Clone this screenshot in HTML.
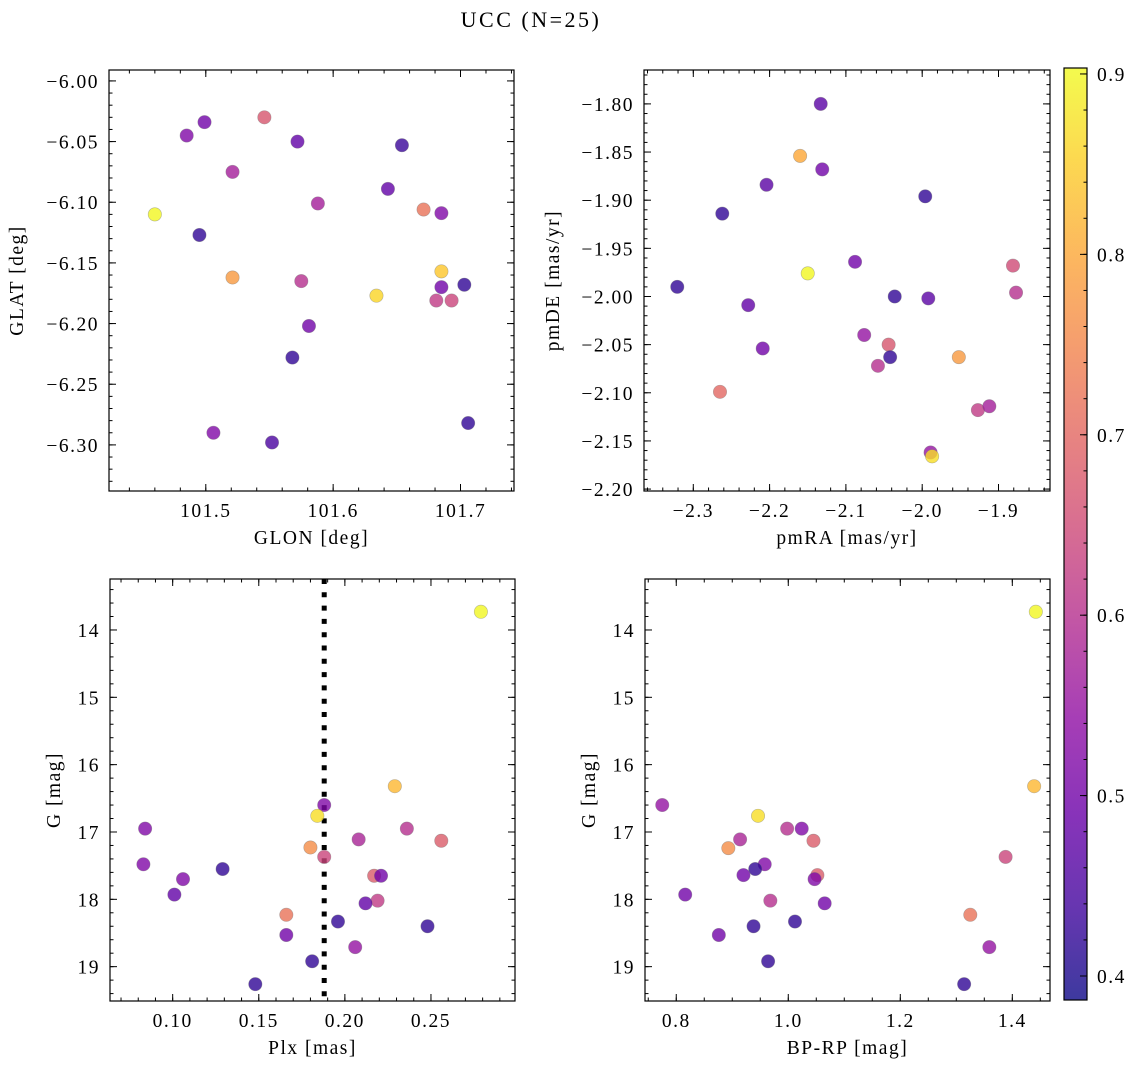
<!DOCTYPE html>
<html><head><meta charset="utf-8"><style>
html,body{margin:0;padding:0;background:#fff;}
svg{display:block;font-family:"Liberation Serif","DejaVu Serif",serif;}
</style></head><body>
<svg id="fig" width="1136" height="1068" viewBox="0 0 1136 1068" xmlns="http://www.w3.org/2000/svg">
<text x="531" y="27" font-size="22" letter-spacing="2.5" text-anchor="middle">UCC (N=25)</text>
</svg>
<script>
// ---- data ----
const p1Glon=[101.460,101.485,101.499,101.546,101.521,101.495,101.521,101.572,101.654,101.643,101.588,101.671,101.685,101.575,101.634,101.685,101.685,101.681,101.693,101.703,101.581,101.568,101.506,101.552,101.706];
const p1Glat=[-6.110,-6.045,-6.034,-6.030,-6.075,-6.127,-6.162,-6.050,-6.053,-6.089,-6.101,-6.106,-6.109,-6.165,-6.177,-6.157,-6.170,-6.181,-6.181,-6.168,-6.202,-6.228,-6.290,-6.298,-6.282];
const p1Prob=[0.90,0.52,0.50,0.67,0.57,0.42,0.78,0.48,0.43,0.48,0.57,0.72,0.52,0.60,0.86,0.84,0.50,0.62,0.64,0.42,0.50,0.42,0.52,0.45,0.42];
const p2PmRA=[-2.133,-2.160,-2.131,-2.204,-2.262,-1.996,-2.150,-2.088,-1.881,-1.877,-2.321,-2.228,-2.036,-1.992,-2.209,-2.076,-2.044,-2.042,-2.058,-1.952,-2.265,-1.927,-1.912,-1.989,-1.987];
const p2PmDE=[-1.800,-1.854,-1.868,-1.884,-1.914,-1.896,-1.976,-1.964,-1.968,-1.996,-1.990,-2.009,-2.000,-2.002,-2.054,-2.040,-2.050,-2.063,-2.072,-2.063,-2.099,-2.118,-2.114,-2.162,-2.166];
const p2Prob=[0.47,0.80,0.50,0.47,0.42,0.42,0.90,0.50,0.65,0.60,0.42,0.48,0.42,0.47,0.50,0.55,0.67,0.42,0.60,0.78,0.70,0.62,0.57,0.55,0.87];
const p3Plx=[0.279,0.229,0.188,0.184,0.084,0.236,0.208,0.256,0.180,0.188,0.083,0.129,0.106,0.217,0.221,0.101,0.219,0.212,0.166,0.196,0.248,0.166,0.206,0.181,0.148];
const p3G=[13.73,16.32,16.60,16.76,16.95,16.95,17.11,17.13,17.23,17.37,17.48,17.55,17.70,17.65,17.65,17.93,18.02,18.06,18.23,18.33,18.40,18.53,18.71,18.92,19.26];
const p3Prob=[0.90,0.82,0.52,0.87,0.52,0.60,0.58,0.68,0.76,0.64,0.52,0.42,0.52,0.68,0.50,0.48,0.62,0.48,0.72,0.42,0.42,0.50,0.55,0.42,0.42];
const plxLine=[0.188];
const p4Bprp=[1.442,1.439,0.775,0.946,0.998,1.024,1.045,0.914,0.893,1.388,0.958,0.941,0.920,1.052,1.047,0.816,0.968,1.065,1.325,1.012,0.938,0.876,1.359,0.964,1.314];
const p4G=[13.73,16.32,16.60,16.76,16.95,16.95,17.13,17.11,17.24,17.37,17.48,17.55,17.64,17.64,17.70,17.93,18.02,18.06,18.23,18.33,18.40,18.53,18.71,18.92,19.26];
const p4Prob=[0.90,0.82,0.55,0.87,0.60,0.52,0.68,0.58,0.76,0.64,0.52,0.42,0.50,0.68,0.52,0.50,0.60,0.50,0.72,0.42,0.42,0.50,0.55,0.42,0.42];
const cbTicks=[0.4,0.5,0.6,0.7,0.8,0.9];
const VMIN=0.3867, VMAX=0.9033;
const FS=19.5, LS=1.5;

const NS="http://www.w3.org/2000/svg";
const svg=document.getElementById('fig');
function mk(tag,attrs,parent){const e=document.createElementNS(NS,tag);for(const k in attrs)e.setAttribute(k,attrs[k]);(parent||svg).appendChild(e);return e;}
const stops=[[13,8,135],[65,4,157],[106,0,168],[143,13,164],[177,42,144],[204,71,120],[225,100,98],[242,132,75],[252,166,54],[252,206,37],[240,249,33]];
function plasma(t){t=Math.max(0,Math.min(1,t));const f=t*10,i=Math.min(9,Math.floor(f)),r=f-i;const a=stops[i],b=stops[i+1];
 return 'rgb('+a.map((v,k)=>Math.round(v+(b[k]-v)*r)).join(',')+')';}
function fmt(v,d){const s=Math.abs(v).toFixed(d);return (v<-1e-9?'\u2212':'')+s;}

function panel(o){
 const g=mk('g',{});
 
 
 const X=v=>o.x0+(v-o.xmin)/(o.xmax-o.xmin)*(o.x1-o.x0);
 const Y=v=>o.inv? o.y0+(v-o.ymin)/(o.ymax-o.ymin)*(o.y1-o.y0) : o.y1-(v-o.ymin)/(o.ymax-o.ymin)*(o.y1-o.y0);
 const tk=(vals,isX,len)=>{vals.forEach(v=>{
  if(isX){const p=X(v);if(p<o.x0-0.5||p>o.x1+0.5)return;
   mk('line',{x1:p,x2:p,y1:o.y1,y2:o.y1-len,stroke:'#000','stroke-width':1},g);
   mk('line',{x1:p,x2:p,y1:o.y0,y2:o.y0+len,stroke:'#000','stroke-width':1},g);}
  else{const p=Y(v);if(p<o.y0-0.5||p>o.y1+0.5)return;
   mk('line',{x1:o.x0,x2:o.x0+len,y1:p,y2:p,stroke:'#000','stroke-width':1},g);
   mk('line',{x1:o.x1,x2:o.x1-len,y1:p,y2:p,stroke:'#000','stroke-width':1},g);}
 });};
 const range=(a,b,s)=>{const r=[];for(let v=Math.ceil(a/s-1e-6)*s;v<=b+1e-9;v+=s)r.push(+v.toFixed(6));return r;};
 tk(range(o.xmin,o.xmax,o.xminor),true,3.5);
 tk(range(o.ymin,o.ymax,o.yminor),false,3.5);
 tk(o.xticks,true,7);tk(o.yticks,false,7);
 o.xticks.forEach(v=>{const p=X(v);if(p<o.x0-1||p>o.x1+1)return;
  const t=mk('text',{x:p,y:o.y1+26,'font-size':FS,'letter-spacing':LS,'text-anchor':'middle'},g);t.textContent=fmt(v,o.xd);
  });
 o.yticks.forEach(v=>{const p=Y(v);if(p<o.y0-1||p>o.y1+1)return;
  const t=mk('text',{x:o.x0-10,y:p+7,'font-size':FS,'letter-spacing':LS,'text-anchor':'end'},g);t.textContent=fmt(v,o.yd);
  });
 if(o.vline){o.vline.forEach(v=>{const l=mk('line',{x1:X(v),x2:X(v),y1:o.y0,y2:o.y1,stroke:'#000','stroke-width':5,'stroke-dasharray':'5,8.3'},g);
  });}
 o.xs.forEach((xv,i)=>{const c=mk('circle',{cx:X(xv),cy:Y(o.ys[i]),r:6.7,fill:plasma((o.cs[i]-VMIN)/(VMAX-VMIN)),'fill-opacity':0.8,stroke:'#777','stroke-opacity':0.5,'stroke-width':0.6},g);
  });
 const fr=mk('rect',{x:o.x0,y:o.y0,width:o.x1-o.x0,height:o.y1-o.y0,fill:'none',stroke:'#000','stroke-width':1.2},g);
 
 const xl=mk('text',{x:(o.x0+o.x1)/2,y:o.y1+53,'font-size':FS,'letter-spacing':LS,'text-anchor':'middle'},g);xl.textContent=o.xlabel;
 
 const yc=(o.y0+o.y1)/2;
 const yl=mk('text',{x:o.ylx,y:yc,'font-size':FS,'letter-spacing':LS,'text-anchor':'middle',transform:'rotate(-90 '+o.ylx+' '+yc+')'},g);yl.textContent=o.ylabel;
 
}

panel({name:'glon-glat-panel',x0:109,x1:514,y0:70,y1:491,xmin:101.424,xmax:101.742,ymin:-6.338,ymax:-5.991,
 xticks:[101.5,101.6,101.7],xminor:0.02,xd:1,yticks:[-6.30,-6.25,-6.20,-6.15,-6.10,-6.05,-6.00],yminor:0.01,yd:2,
 xs:p1Glon,ys:p1Glat,cs:p1Prob,xlabel:'GLON [deg]',ylabel:'GLAT [deg]',ylx:23});
panel({name:'proper-motion-panel',x0:644,x1:1050,y0:70,y1:491,xmin:-2.3646,xmax:-1.8325,ymin:-2.202,ymax:-1.7648,
 xticks:[-2.3,-2.2,-2.1,-2.0,-1.9],xminor:0.02,xd:1,yticks:[-2.20,-2.15,-2.10,-2.05,-2.00,-1.95,-1.90,-1.85,-1.80],yminor:0.01,yd:2,
 xs:p2PmRA,ys:p2PmDE,cs:p2Prob,xlabel:'pmRA [mas/yr]',ylabel:'pmDE [mas/yr]',ylx:559});
panel({name:'plx-g-panel',x0:110,x1:515,y0:579,y1:1001,xmin:0.0636,xmax:0.2988,ymin:13.243,ymax:19.51,inv:true,
 xticks:[0.10,0.15,0.20,0.25],xminor:0.01,xd:2,yticks:[14,15,16,17,18,19],yminor:0.2,yd:0,
 xs:p3Plx,ys:p3G,cs:p3Prob,xlabel:'Plx [mas]',ylabel:'G [mag]',ylx:60,vline:plxLine});
panel({name:'cmd-panel',x0:645,x1:1050,y0:579,y1:1001,xmin:0.7442,xmax:1.4673,ymin:13.243,ymax:19.51,inv:true,
 xticks:[0.8,1.0,1.2,1.4],xminor:0.05,xd:1,yticks:[14,15,16,17,18,19],yminor:0.2,yd:0,
 xs:p4Bprp,ys:p4G,cs:p4Prob,xlabel:'BP-RP [mag]',ylabel:'G [mag]',ylx:595});

(function(){
 const cx0=1064,cx1=1087,cy0=68,cy1=1000;
 const g=mk('g',{});
 
 
 const defs=mk('defs',{},g);
 const lg=mk('linearGradient',{id:'cbg',x1:0,y1:1,x2:0,y2:0},defs);
 for(let i=0;i<=20;i++){mk('stop',{offset:(i/20),'stop-color':plasma(i/20),'stop-opacity':0.8},lg);}
 mk('rect',{x:cx0,y:cy0,width:cx1-cx0,height:cy1-cy0,fill:'url(#cbg)'},g);
 const Yc=v=>cy1-(v-VMIN)/(VMAX-VMIN)*(cy1-cy0);
 for(let v=0.40;v<=0.9001;v+=0.02){const p=Yc(v);mk('line',{x1:cx1,x2:cx1-3.5,y1:p,y2:p,stroke:'#000','stroke-width':1},g);}
 cbTicks.forEach(v=>{const p=Yc(v);mk('line',{x1:cx1,x2:cx1-7,y1:p,y2:p,stroke:'#000','stroke-width':1},g);
  const t=mk('text',{x:cx1+10,y:p+7,'font-size':FS,'letter-spacing':LS},g);t.textContent=v.toFixed(1);
  });
 mk('rect',{x:cx0,y:cy0,width:cx1-cx0,height:cy1-cy0,fill:'none',stroke:'#000','stroke-width':1.2},g);
})();
</script>
</body></html>
